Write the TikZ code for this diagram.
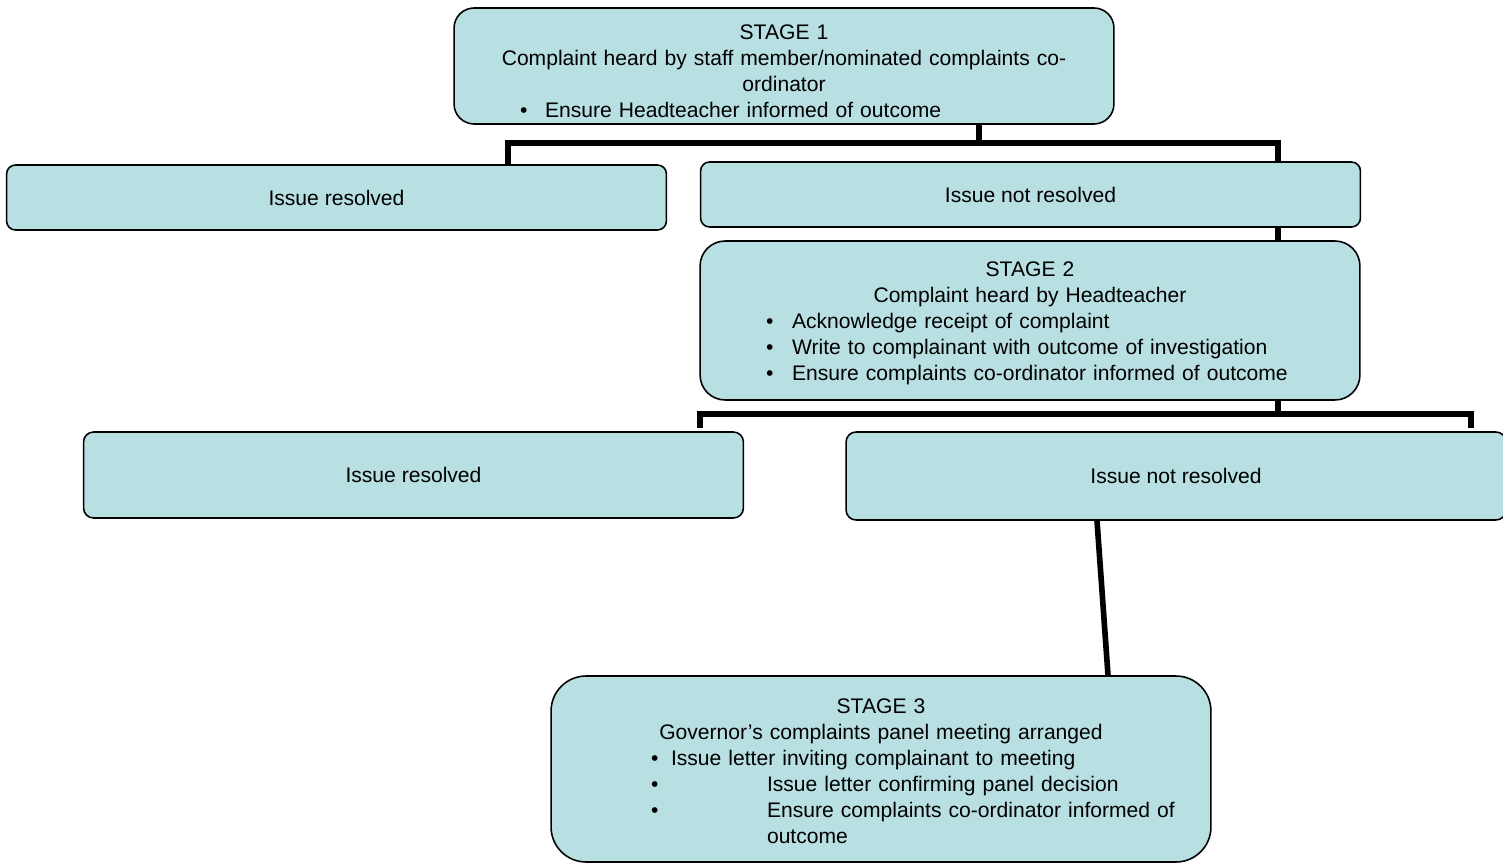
\documentclass[tikz,border=0pt]{standalone}
\usepackage{fontspec}
\setmainfont{Liberation Sans}
\usepackage{xcolor}
\usepackage{tikz}
\usetikzlibrary{calc}
\usetikzlibrary{positioning}
\definecolor{boxblue}{RGB}{184,223,226}
\newcommand{\bulline}[3]{\par\noindent\hangindent=#2\hangafter=1\hspace*{#1}\makebox[\dimexpr#2-#1\relax][l]{\textbullet}#3\par}
\tikzstyle{stagenode}=[draw=black, line width=0.9pt, fill=boxblue, shape=rectangle, rounded corners=0.45cm, minimum width=13.2cm, inner xsep=0pt, inner ysep=2pt, text width=13.2cm, font=\fontsize{12}{14.8}\selectfont]
\tikzstyle{issuenode}=[draw=black, line width=0.9pt, fill=boxblue, shape=rectangle, rounded corners=0.18cm, minimum width=13.2cm, align=center, font=\fontsize{12}{14.8}\selectfont]
\tikzstyle{linkline}=[line width=3.2pt, color=black]

\begin{document}
\begin{tikzpicture}[x=0.02cm, y=-0.02cm]
\useasboundingbox (0,0) rectangle (1503,864);

\node [stagenode, minimum height=2.32cm, rounded corners=0.4cm] (stage1) at (784,66) {{\centering STAGE 1\\ Complaint heard by staff member/nominated complaints co-\\ ordinator\par}\bulline{1.32cm}{1.82cm}{Ensure Headteacher informed of outcome}\kern-5.6pt};
\node [issuenode, minimum height=1.3cm] (resolved1) at (336.5,197.5) {Issue resolved};
\node [issuenode, minimum height=1.3cm] (notresolved1) at (1030.5,194.5) {Issue not resolved};
\node [stagenode, minimum height=3.18cm, rounded corners=0.5cm] (stage2) at (1030,320.5) {{\centering STAGE 2\\ Complaint heard by Headteacher\par}\bulline{1.32cm}{1.84cm}{Acknowledge receipt of complaint}\bulline{1.32cm}{1.84cm}{Write to complainant with outcome of investigation}\bulline{1.32cm}{1.84cm}{Ensure complaints co-ordinator informed of outcome}\kern-3.4pt};
\node [issuenode, minimum height=1.72cm, rounded corners=0.2cm] (resolved2) at (413.5,475) {Issue resolved};
\node [issuenode, minimum height=1.76cm, rounded corners=0.2cm] (notresolved2) at (1176,476) {Issue not resolved};
\node [stagenode, minimum height=3.72cm, rounded corners=0.7cm] (stage3) at (881,769) {{\centering STAGE 3\\ Governor's complaints panel meeting arranged\par}\bulline{2.0cm}{2.4cm}{Issue letter inviting complainant to meeting}\bulline{2.0cm}{4.32cm}{Issue letter confirming panel decision}\bulline{2.0cm}{4.32cm}{Ensure complaints co-ordinator informed of\newline outcome}\kern-2.3pt};

\coordinate (split1) at (979,143);
\coordinate (drop1) at (508,165);
\coordinate (drop2) at (1278,162);
\coordinate (split2) at (1278,414);
\coordinate (drop3) at (700,428);
\coordinate (drop4) at (1471,428);

\draw[linkline] (stage1.south -| split1) -- (split1) -| (drop1);
\draw[linkline] (split1) -| (drop2);
\draw[linkline] (notresolved1.south -| drop2) -- (stage2.north -| drop2);
\draw[linkline] (stage2.south -| split2) -- (split2) -| (drop3);
\draw[linkline] (split2) -| (drop4);
\draw[linkline] ($(notresolved2.south)+(-79,0)$) -- ($(stage3.north)+(227,0)$);
\end{tikzpicture}
\end{document}
